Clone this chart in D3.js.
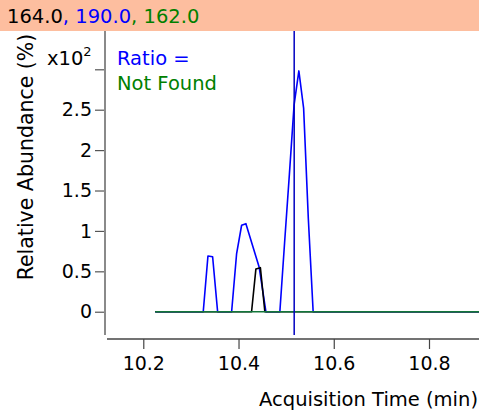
<!DOCTYPE html>
<html>
<head>
<meta charset="utf-8">
<script src="https://cdn.jsdelivr.net/npm/d3@7"></script>
<style>
  body { margin: 0; background: #fff; }
  svg text { font-family: "DejaVu Sans", Verdana, sans-serif; }
</style>
</head>
<body>
<div id="chart"></div>
<script>
// ion masses shown in the header
var ions = ["164.0", "190.0", "162.0"];
var ionColors = ["#000000", "#0000ff", "#008000"];

// traces (time in min, abundance x10^2 %)
var blueTimes = [10.225, 10.3259, 10.3358, 10.3456, 10.3561, 10.3855, 10.396, 10.4065, 10.4155, 10.4434, 10.4575,
                 10.4868, 10.4968, 10.5068, 10.5167, 10.5267, 10.5367, 10.5466, 10.5567, 10.91];
var blueValues = [0, 0, 0.69, 0.68, 0, 0, 0.72, 1.07, 1.09, 0.55, 0,
                  0, 0.86, 1.70, 2.56, 2.98, 2.52, 1.15, 0, 0];
var blackTimes = [10.225, 10.4274, 10.4365, 10.4459, 10.4553, 10.91];
var blackValues = [0, 0, 0.53, 0.545, 0, 0];
var greenTimes = [10.225, 10.91];
var greenValues = [0, 0];

var markerTime = 10.5169;
var xTicks = [10.2, 10.4, 10.6, 10.8];
var yTicks = [0, 0.5, 1, 1.5, 2, 2.5, 3];

var W = 479, H = 412;
var plot = {left: 105, right: 479, top: 31, bottom: 335};

var svg = d3.select("#chart").append("svg")
  .attr("width", W)
  .attr("height", H);

// header band
svg.append("rect")
  .attr("x", 0).attr("y", 0)
  .attr("width", W).attr("height", 31)
  .attr("fill", "#fdbe9f");

var header = svg.append("text")
  .attr("x", 7).attr("y", 23)
  .attr("font-size", 19.5);
ions.forEach(function(d, i) {
  header.append("tspan").attr("fill", ionColors[i]).text(d);
  if (i < ions.length - 1) header.append("tspan").attr("fill", ionColors[i + 1]).text(", ");
});

var x = d3.scaleLinear()
  .domain([10.1238, 10.905])
  .range([107, 479]);

var y = d3.scaleLinear()
  .domain([-0.288, 3.474])
  .range([plot.bottom, plot.top]);

// y axis
var yAxis = svg.append("g")
  .attr("transform", "translate(" + plot.left + ",0)")
  .call(d3.axisLeft(y).tickValues(yTicks).tickSize(10).tickPadding(3)
        .tickFormat(function(d) { return d == 3 ? "" : d3.format("")(d); }));
yAxis.select(".domain").remove();
yAxis.selectAll(".tick line").attr("stroke", "#555").attr("stroke-width", 1.2);
yAxis.selectAll(".tick text")
  .attr("font-size", 19)
  .attr("font-family", "DejaVu Sans")
  .attr("fill", "#000");

svg.append("line")
  .attr("x1", plot.left).attr("x2", plot.left)
  .attr("y1", plot.top).attr("y2", plot.bottom)
  .attr("stroke", "#8a8a8a").attr("stroke-width", 2);

// x axis
var xAxis = svg.append("g")
  .attr("transform", "translate(0,339)")
  .call(d3.axisBottom(x).tickValues(xTicks).tickSize(10).tickPadding(8)
        .tickFormat(d3.format(".1f")));
xAxis.select(".domain").remove();
xAxis.selectAll(".tick line").attr("stroke", "#444").attr("stroke-width", 1.2);
xAxis.selectAll(".tick text")
  .attr("font-size", 19)
  .attr("font-family", "DejaVu Sans")
  .attr("fill", "#000");

svg.append("line")
  .attr("x1", 107).attr("x2", W)
  .attr("y1", 339).attr("y2", 339)
  .attr("stroke", "#444").attr("stroke-width", 1.5);

// axis titles
svg.append("text")
  .attr("x", 478).attr("y", 406)
  .attr("text-anchor", "end")
  .attr("font-size", 19.5)
  .text("Acquisition Time (min)");

svg.append("text")
  .attr("transform", "translate(33,157) rotate(-90)")
  .attr("text-anchor", "middle")
  .attr("font-size", 20.5)
  .text("Relative Abundance (%)");

// multiplier
var mult = svg.append("text")
  .attr("x", 47).attr("y", 65)
  .attr("font-size", 19.5)
  .text("x10");
mult.append("tspan")
  .attr("dy", -9)
  .attr("font-size", 13)
  .text("2");

// legend
svg.append("text")
  .attr("x", 117).attr("y", 65)
  .attr("font-size", 19.5)
  .attr("fill", "#0000ff")
  .text("Ratio =");
svg.append("text")
  .attr("x", 117).attr("y", 90)
  .attr("font-size", 19.5)
  .attr("fill", "#008000")
  .text("Not Found");

// traces
svg.append("clipPath").attr("id", "clip")
  .append("rect")
  .attr("x", plot.left + 1).attr("y", plot.top)
  .attr("width", plot.right - plot.left).attr("height", plot.bottom - plot.top);

var g = svg.append("g").attr("clip-path", "url(#clip)");

var line = d3.line()
  .x(function(d) { return x(d[0]); })
  .y(function(d) { return y(d[1]); });

function trace(times, values, color) {
  g.append("path")
    .datum(d3.zip(times, values))
    .attr("fill", "none")
    .attr("stroke", color)
    .attr("stroke-width", 1.6)
    .attr("stroke-linejoin", "round")
    .attr("d", line);
}

trace(blueTimes, blueValues, "#0000ff");
trace(blackTimes, blackValues, "#000000");
trace(greenTimes, greenValues, "#13763a");

// retention time marker
g.append("line")
  .attr("x1", x(markerTime)).attr("x2", x(markerTime))
  .attr("y1", plot.top).attr("y2", plot.bottom)
  .attr("stroke", "#0000c0").attr("stroke-width", 1.5);
</script>
</body>
</html>
